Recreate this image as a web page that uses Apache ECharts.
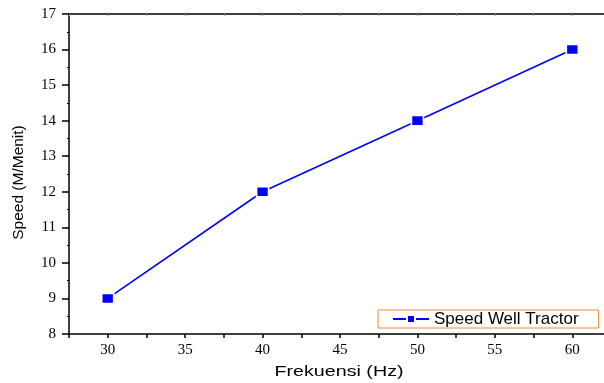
<!DOCTYPE html>
<html>
<head>
<meta charset="utf-8">
<script src="https://cdn.jsdelivr.net/npm/echarts@6/dist/echarts.min.js"></script>
<style>
  html, body { margin: 0; padding: 0; background: #fff; }
  #chart { width: 604px; height: 383px; }
</style>
</head>
<body>
<div id="chart"></div>
<script>
// values
const frequencies = [30, 40, 50, 60];
const speeds = [9, 12, 14, 16];
const seriesName = 'Speed Well Tractor';
const xTitle = 'Frekuensi (Hz)';
const yTitle = 'Speed (M/Menit)';

const chart = echarts.init(document.getElementById('chart'));

const tickFont = { fontFamily: 'Liberation Serif', fontSize: 15, color: '#000' };
const axisLine = { lineStyle: { color: '#000', width: 1.5 } };
const titleFont = { fontFamily: 'Liberation Sans', fill: '#000', align: 'center', verticalAlign: 'middle' };

chart.setOption({
  backgroundColor: '#fff',
  animation: false,
  // plot runs past the right edge of the picture, as in the original export
  grid: { left: 69, width: 542, top: 14, bottom: 49, outerBoundsMode: 'none', containLabel: false },
  legend: {
    data: [seriesName],
    left: 378,
    top: 310,
    itemWidth: 36,
    itemHeight: 10,
    padding: [0, 20, 0, 14],
    borderColor: '#f08a3c',
    borderWidth: 1,
    borderRadius: 0,
    textStyle: { fontFamily: 'Liberation Sans', fontSize: 17, color: '#000', lineHeight: 18 }
  },
  // axis titles: the original export stretches them, so they are placed by hand
  graphic: [
    {
      type: 'text',
      x: 339,
      y: 372,
      scaleX: 1.27,
      silent: true,
      style: Object.assign({ text: xTitle, fontSize: 15.5 }, titleFont)
    },
    {
      type: 'text',
      x: 18.5,
      y: 182.5,
      rotation: Math.PI / 2,
      silent: true,
      style: Object.assign({ text: yTitle, fontSize: 15.5 }, titleFont)
    }
  ],
  xAxis: [
    {
      type: 'value',
      min: 27.5,
      max: 62.5,
      interval: 2.5,
      axisLine: axisLine,
      axisTick: { show: true, length: 4, lineStyle: { color: '#000', width: 1.5 } },
      axisLabel: Object.assign({
        margin: 9,
        formatter: v => (v % 5 === 0 ? String(v) : '')
      }, tickFont),
      splitLine: { show: false }
    },
    {
      type: 'value',
      position: 'top',
      min: 27.5,
      max: 62.5,
      interval: 2.5,
      axisLine: axisLine,
      axisTick: { show: true, inside: true, length: 2, lineStyle: { color: '#999', width: 1 } },
      axisLabel: { show: false },
      splitLine: { show: false }
    }
  ],
  yAxis: {
    type: 'value',
    min: 8,
    max: 17,
    interval: 1,
    axisLine: Object.assign({ show: true }, axisLine),
    axisTick: { show: true, length: 7, lineStyle: { color: '#000', width: 1.5 } },
    minorTick: { show: true, splitNumber: 2, length: 2, lineStyle: { color: '#000', width: 1 } },
    axisLabel: Object.assign({ margin: 13 }, tickFont),
    splitLine: { show: false }
  },
  series: [
    {
      name: seriesName,
      type: 'line',
      data: frequencies.map((f, i) => [f, speeds[i]]),
      symbol: 'rect',
      symbolSize: [12, 10],
      lineStyle: { color: '#0000ff', width: 1.6 },
      itemStyle: { color: '#0000ff', borderColor: '#fff', borderWidth: 1.5 }
    }
  ]
});
</script>
</body>
</html>
